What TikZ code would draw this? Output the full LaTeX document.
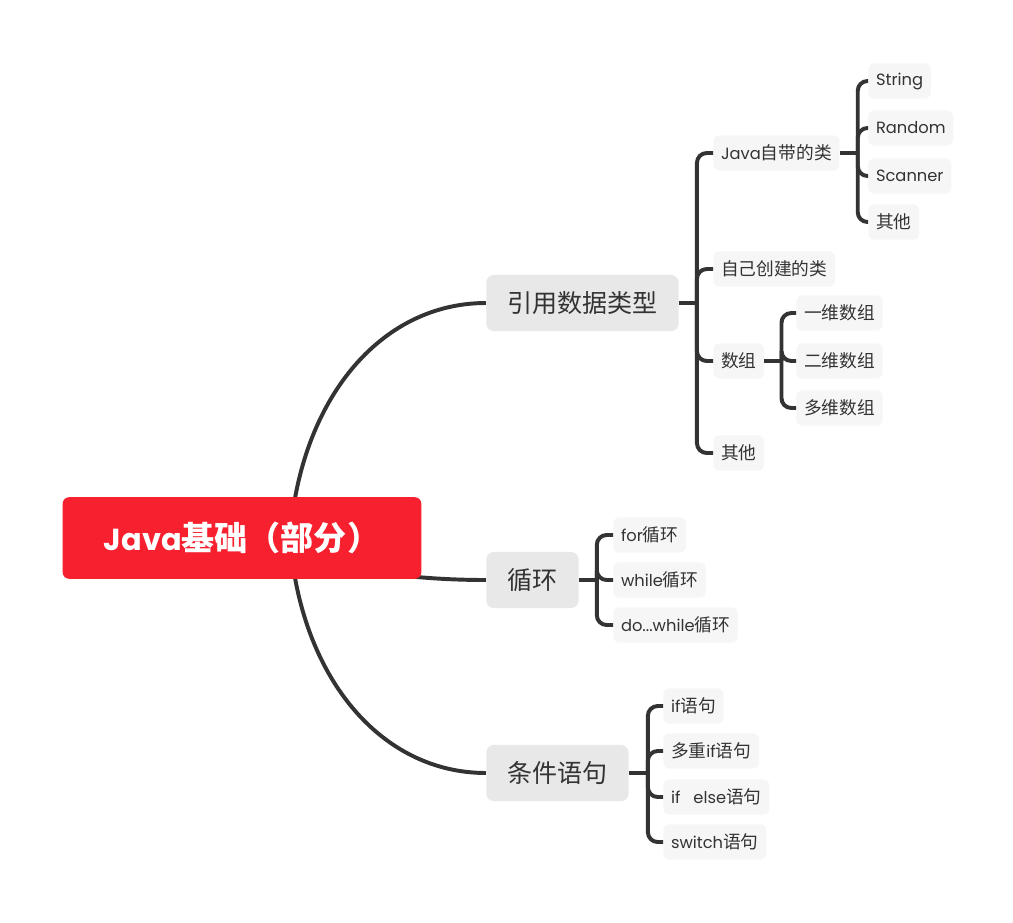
\documentclass[tikz,border=0pt]{standalone}
\usepackage{fontspec}
\setmainfont{Poppins}[Scale=0.92]
\newfontfamily\cjk{Noto Sans CJK SC}
\usetikzlibrary{backgrounds,calc}

\definecolor{rootred}{RGB}{247,32,47}
\definecolor{topicgray}{RGB}{232,232,232}
\definecolor{leafgray}{RGB}{246,246,246}
\definecolor{inkgray}{RGB}{51,51,51}
\newcommand{\zh}[1]{{\cjk #1}}

\begin{document}
\begin{tikzpicture}[
    x=0.025cm,
    y=-0.025cm,
    root/.style={
        fill=rootred,
        rounded corners=4.5pt,
        minimum width=255pt,
        minimum height=58pt,
        text=white,
        font=\bfseries\fontsize{23.5}{28}\selectfont
    },
    topic/.style={
        fill=topicgray,
        rounded corners=5.5pt,
        minimum height=40pt,
        inner xsep=15pt,
        anchor=west,
        text=inkgray,
        font=\fontsize{17.8}{21}\selectfont
    },
    leaf/.style={
        fill=leafgray,
        rounded corners=4.3pt,
        minimum height=25pt,
        inner xsep=5.5pt,
        anchor=west,
        text=inkgray,
        font=\fontsize{12.6}{15}\selectfont
    },
    branch/.style={draw=inkgray, line width=2.8pt},
    twig/.style={draw=inkgray, line width=2.8pt, rounded corners=7pt}
]
\useasboundingbox (0,0) rectangle (1013,922);

% root and main topics
\node[root] (java) at (242,538) {Java\zh{基础（部分）}};
\node[topic] (ref) at (486,303) {\zh{引用数据类型}};
\node[topic] (loop) at (486,580) {\zh{循环}};
\node[topic] (cond) at (486,773) {\zh{条件语句}};

% reference types
\node[leaf] (builtin) at (713,153) {Java\zh{自带的类}};
\node[leaf] (owncls) at (713,269) {\zh{自己创建的类}};
\node[leaf] (arr) at (713,361) {\zh{数组}};
\node[leaf] (refother) at (713,453) {\zh{其他}};

\node[leaf] (string) at (868,81) {String};
\node[leaf] (random) at (868,128) {Random};
\node[leaf] (scanner) at (868,176) {Scanner};
\node[leaf] (clsother) at (868,222) {\zh{其他}};

\node[leaf] (arr1) at (796,313) {\zh{一维数组}};
\node[leaf] (arr2) at (796,361) {\zh{二维数组}};
\node[leaf] (arrn) at (796,408) {\zh{多维数组}};

% loops
\node[leaf] (forloop) at (613,535) {for\zh{循环}};
\node[leaf] (whileloop) at (613,580) {while\zh{循环}};
\node[leaf] (doloop) at (613,625) {do...while\zh{循环}};

% conditions
\node[leaf] (ifst) at (663,706) {if\zh{语句}};
\node[leaf] (multiif) at (663,751) {\zh{多重}if\zh{语句}};
\node[leaf] (ifelse) at (663,797) {if\ \ \ else\zh{语句}};
\node[leaf] (switchst) at (663,842) {switch\zh{语句}};

% curved branches from the root
\begin{scope}[on background layer]
    \coordinate (hub) at (290,538);
    \draw[branch] (hub) .. controls ($(hub)+(10,-138)$) and ($(ref.west)+(-106,0)$) .. (ref.west);
    \draw[branch] (hub) .. controls ($(hub)+(10,22)$) and ($(loop.west)+(-106,0)$) .. (loop.west);
    \draw[branch] (hub) .. controls ($(hub)+(10,138)$) and ($(cond.west)+(-106,0)$) .. (cond.west);
\end{scope}

% brackets
\coordinate (refJ) at ($(ref.east)+(18,0)$);
\draw[branch] (ref.east) -- (refJ);
\foreach \c in {builtin, owncls, arr, refother}
    \draw[twig] (refJ) |- (\c.west);

\coordinate (builtinJ) at ($(builtin.east)+(18,0)$);
\draw[branch] (builtin.east) -- (builtinJ);
\foreach \c in {string, random, scanner, clsother}
    \draw[twig] (builtinJ) |- (\c.west);

\coordinate (arrJ) at ($(arr.east)+(17,0)$);
\draw[branch] (arr.east) -- (arrJ);
\foreach \c in {arr1, arr2, arrn}
    \draw[twig] (arrJ) |- (\c.west);

\coordinate (loopJ) at ($(loop.east)+(18,0)$);
\draw[branch] (loop.east) -- (loopJ);
\foreach \c in {forloop, whileloop, doloop}
    \draw[twig] (loopJ) |- (\c.west);

\coordinate (condJ) at ($(cond.east)+(19,0)$);
\draw[branch] (cond.east) -- (condJ);
\foreach \c in {ifst, multiif, ifelse, switchst}
    \draw[twig] (condJ) |- (\c.west);

\end{tikzpicture}
\end{document}
